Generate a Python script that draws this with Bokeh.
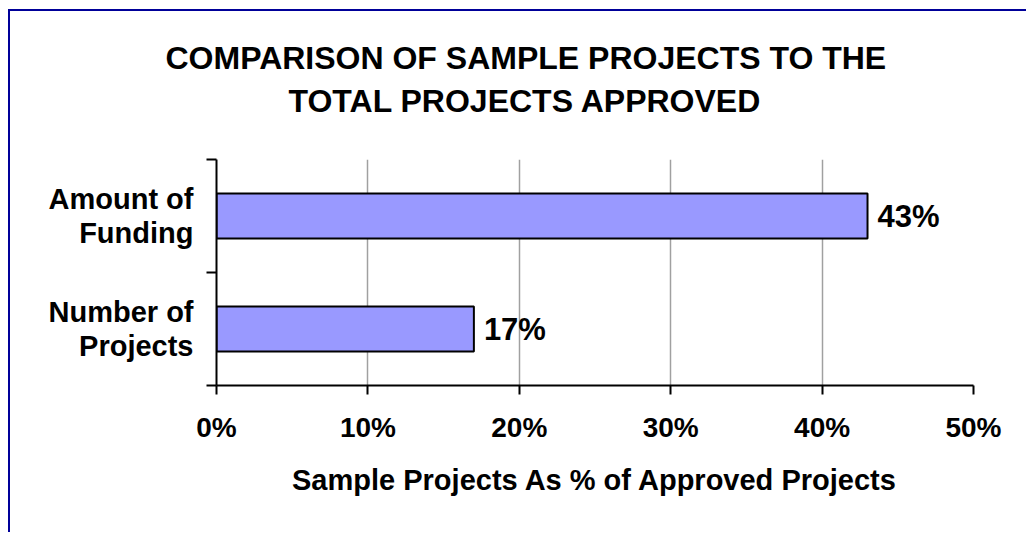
from bokeh.plotting import figure
from bokeh.models import (ColumnDataSource, Range1d, FixedTicker, PrintfTickFormatter,
                          LabelSet, Title, Grid)
from bokeh.core.properties import value
from bokeh.embed import file_html
from bokeh.resources import INLINE

# ---- data ----
categories = ["Number of\nProjects", "Amount of\nFunding"]
values = [17, 43]
x_ticks = [0, 10, 20, 30, 40, 50]
title_lines = ["COMPARISON OF SAMPLE PROJECTS TO THE", "TOTAL PROJECTS APPROVED"]
x_label = "Sample Projects As % of Approved Projects"

FONT = "Liberation Sans"
BLUE_BORDER = "#000099"

y_pos = [i + 0.5 for i in range(len(categories))]
source = ColumnDataSource(dict(
    y=y_pos,
    value=values,
    label=[f"{v}%" for v in values],
))

W, H = 1018, 523
p = figure(width=W, height=H, output_backend="svg", toolbar_location=None,
           x_range=Range1d(0, x_ticks[-1]), y_range=Range1d(0, len(categories)),
           min_border_left=206, min_border_right=W - 963,
           min_border_top=148, min_border_bottom=H - 374,
           background_fill_color="white", border_fill_color="white",
           styles={"margin-left": "8px", "margin-top": "9px",
                   "border-top": f"2px solid {BLUE_BORDER}",
                   "border-left": f"2px solid {BLUE_BORDER}"})
p.outline_line_color = None

p.hbar(y="y", right="value", left=0, height=0.4, source=source,
       fill_color="#9999FF", line_color="black", line_width=2)

p.add_layout(LabelSet(x="value", y="y", text="label", source=source,
                      x_offset=10, text_baseline="middle", text_align="left",
                      text_font=value(FONT), text_font_style="bold",
                      text_font_size="31px", text_color="black"))

# x axis
xa = p.xaxis[0]
xa.ticker = FixedTicker(ticks=x_ticks)
xa.formatter = PrintfTickFormatter(format="%d%%")
xa.axis_line_color = "black"
xa.axis_line_width = 2
xa.major_tick_line_color = "black"
xa.major_tick_line_width = 2
xa.major_tick_out = 9
xa.major_tick_in = 0
xa.minor_tick_line_color = None
xa.major_label_standoff = 17
xa.major_label_text_font = FONT
xa.major_label_text_font_style = "bold"
xa.major_label_text_font_size = "28px"
xa.major_label_text_color = "black"
xa.axis_label = x_label
xa.axis_label_text_font = FONT
xa.axis_label_text_font_style = "bold"
xa.axis_label_text_font_size = "29px"
xa.axis_label_text_color = "black"
xa.axis_label_standoff = 18

# y axis: labels at category centres, ticks at category boundaries
ya = p.yaxis[0]
ya.ticker = FixedTicker(ticks=y_pos, minor_ticks=list(range(len(categories) + 1)))
ya.major_label_overrides = {y: c for y, c in zip(y_pos, categories)}
ya.axis_line_color = "black"
ya.axis_line_width = 2
ya.major_tick_line_color = None
ya.major_tick_out = 0
ya.major_tick_in = 0
ya.minor_tick_line_color = "black"
ya.minor_tick_line_width = 2
ya.minor_tick_out = 10
ya.minor_tick_in = 0
ya.major_label_standoff = 13
ya.major_label_text_font = FONT
ya.major_label_text_font_style = "bold"
ya.major_label_text_font_size = "29px"
ya.major_label_text_line_height = 1.05
ya.major_label_text_align = "center"
ya.major_label_text_color = "black"

# grids
p.ygrid.grid_line_color = None
p.xgrid.ticker = FixedTicker(ticks=x_ticks[1:-1])
p.xgrid.grid_line_color = "#a0a0a0"
p.xgrid.grid_line_width = 1.5
p.add_layout(Grid(dimension=0, ticker=FixedTicker(ticks=[x_ticks[-1]]),
                  grid_line_color="#e0e0e0", grid_line_width=1.5))

# title: blank spacer next to the frame, then the two lines
p.add_layout(Title(text=" ", standoff=3, text_font=FONT,
                   text_font_size="32px"), "above")
for line, off, so in [(title_lines[1], 72, 0), (title_lines[0], -51, 9)]:
    p.add_layout(Title(text=line, align="left", offset=off, standoff=so,
                       vertical_align="bottom",
                       text_font=FONT, text_font_style="bold",
                       text_font_size="32px", text_color="black"), "above")

open("out.html", "w").write(file_html(p, INLINE))
